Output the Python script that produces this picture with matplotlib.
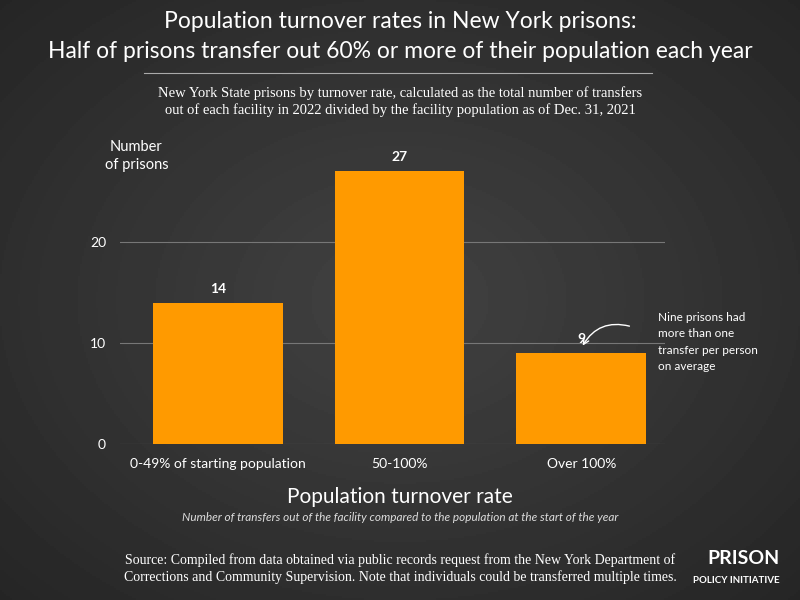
import numpy as np
import matplotlib
matplotlib.use("Agg")
import matplotlib.pyplot as plt

# ---------------------------------------------------------------------------
# 数据
# ---------------------------------------------------------------------------
categories = ["0-49% of starting population", "50-100%", "Over 100%"]
prison_counts = [14, 27, 9]
y_ticks = [0, 10, 20]

bar_color = "#ff9a00"
text_color = "white"

fig = plt.figure(figsize=(8, 6), dpi=100)

# 背景：径向渐变的深灰色
bg = fig.add_axes([0, 0, 1, 1], zorder=-10)
yy, xx = np.mgrid[-1:1:300j, -1:1:400j]
r = np.sqrt(xx ** 2 + yy ** 2)
bg.imshow(0.26 - 0.08 * r, cmap="gray", vmin=0, vmax=1, aspect="auto",
          extent=[0, 1, 0, 1])
bg.axis("off")

# 主图
ax = fig.add_axes([0.15, 0.26, 0.681, 0.505])
x = np.arange(len(categories))
ax.bar(x, prison_counts, width=0.714, color=bar_color, zorder=3)
for xi, v in zip(x, prison_counts):
    ax.text(xi, v + 0.8, str(v), ha="center", va="bottom", color=text_color,
            fontsize=10, fontweight="bold", family="Lato")

ax.set_xlim(-0.54, 2.46)
ax.set_ylim(0, 30)
ax.set_yticks(y_ticks)
ax.set_yticklabels([str(t) for t in y_ticks], color=text_color, fontsize=10, family="Lato")
ax.set_xticks(x)
ax.set_xticklabels(categories, color=text_color, fontsize=10, family="Lato")
ax.tick_params(length=0, pad=10)
ax.yaxis.grid(True, color="#777777", linewidth=0.8, zorder=0)
ax.set_facecolor("none")
for s in ax.spines.values():
    s.set_visible(False)

ax.text(-0.45, 28.5, "Number\nof prisons", color=text_color, fontsize=10.5,
        family="Lato", ha="center", va="center", linespacing=1.4)

# 注释
ax.annotate("", xy=(2.0, 9.5), xytext=(2.28, 11.6),
            arrowprops=dict(arrowstyle="->", color=text_color, lw=1,
                            connectionstyle="arc3,rad=0.4"))
fig.text(0.822, 0.43, "Nine prisons had\nmore than one\ntransfer per person\non average",
         color=text_color, fontsize=8.5, family="Lato", va="center", linespacing=1.6)

# 标题
fig.text(0.5, 0.965, "Population turnover rates in New York prisons:", ha="center",
         va="center", color=text_color, fontsize=16.5, family="Lato")
fig.text(0.5, 0.915, "Half of prisons transfer out 60% or more of their population each year",
         ha="center", va="center", color=text_color, fontsize=16.5, family="Lato")
fig.add_artist(plt.Line2D([0.18, 0.815], [0.878, 0.878], color="#aaaaaa", lw=0.8))
fig.text(0.5, 0.83, "New York State prisons by turnover rate, calculated as the total number of transfers\n"
         "out of each facility in 2022 divided by the facility population as of Dec. 31, 2021",
         ha="center", va="center", color=text_color, fontsize=10.5,
         family="Liberation Serif", linespacing=1.3)

fig.text(0.5, 0.172, "Population turnover rate", ha="center", va="center",
         color=text_color, fontsize=15, family="Lato")
fig.text(0.5, 0.138, "Number of transfers out of the facility compared to the population at the start of the year",
         ha="center", va="center", color="#dddddd", fontsize=8.5, style="italic", family="Lato")

fig.text(0.5, 0.053, "Source: Compiled from data obtained via public records request from the New York Department of\n"
         "Corrections and Community Supervision. Note that individuals could be transferred multiple times.",
         ha="center", va="center", color=text_color, fontsize=10,
         family="Liberation Serif", linespacing=1.3)
fig.text(0.975, 0.07, "PRISON", ha="right", va="center", color=text_color,
         fontsize=14, fontweight="bold", family="Lato")
fig.text(0.975, 0.033, "POLICY INITIATIVE", ha="right", va="center", color=text_color,
         fontsize=7, fontweight="bold", family="Lato")

fig.savefig("out.png", dpi=100)
